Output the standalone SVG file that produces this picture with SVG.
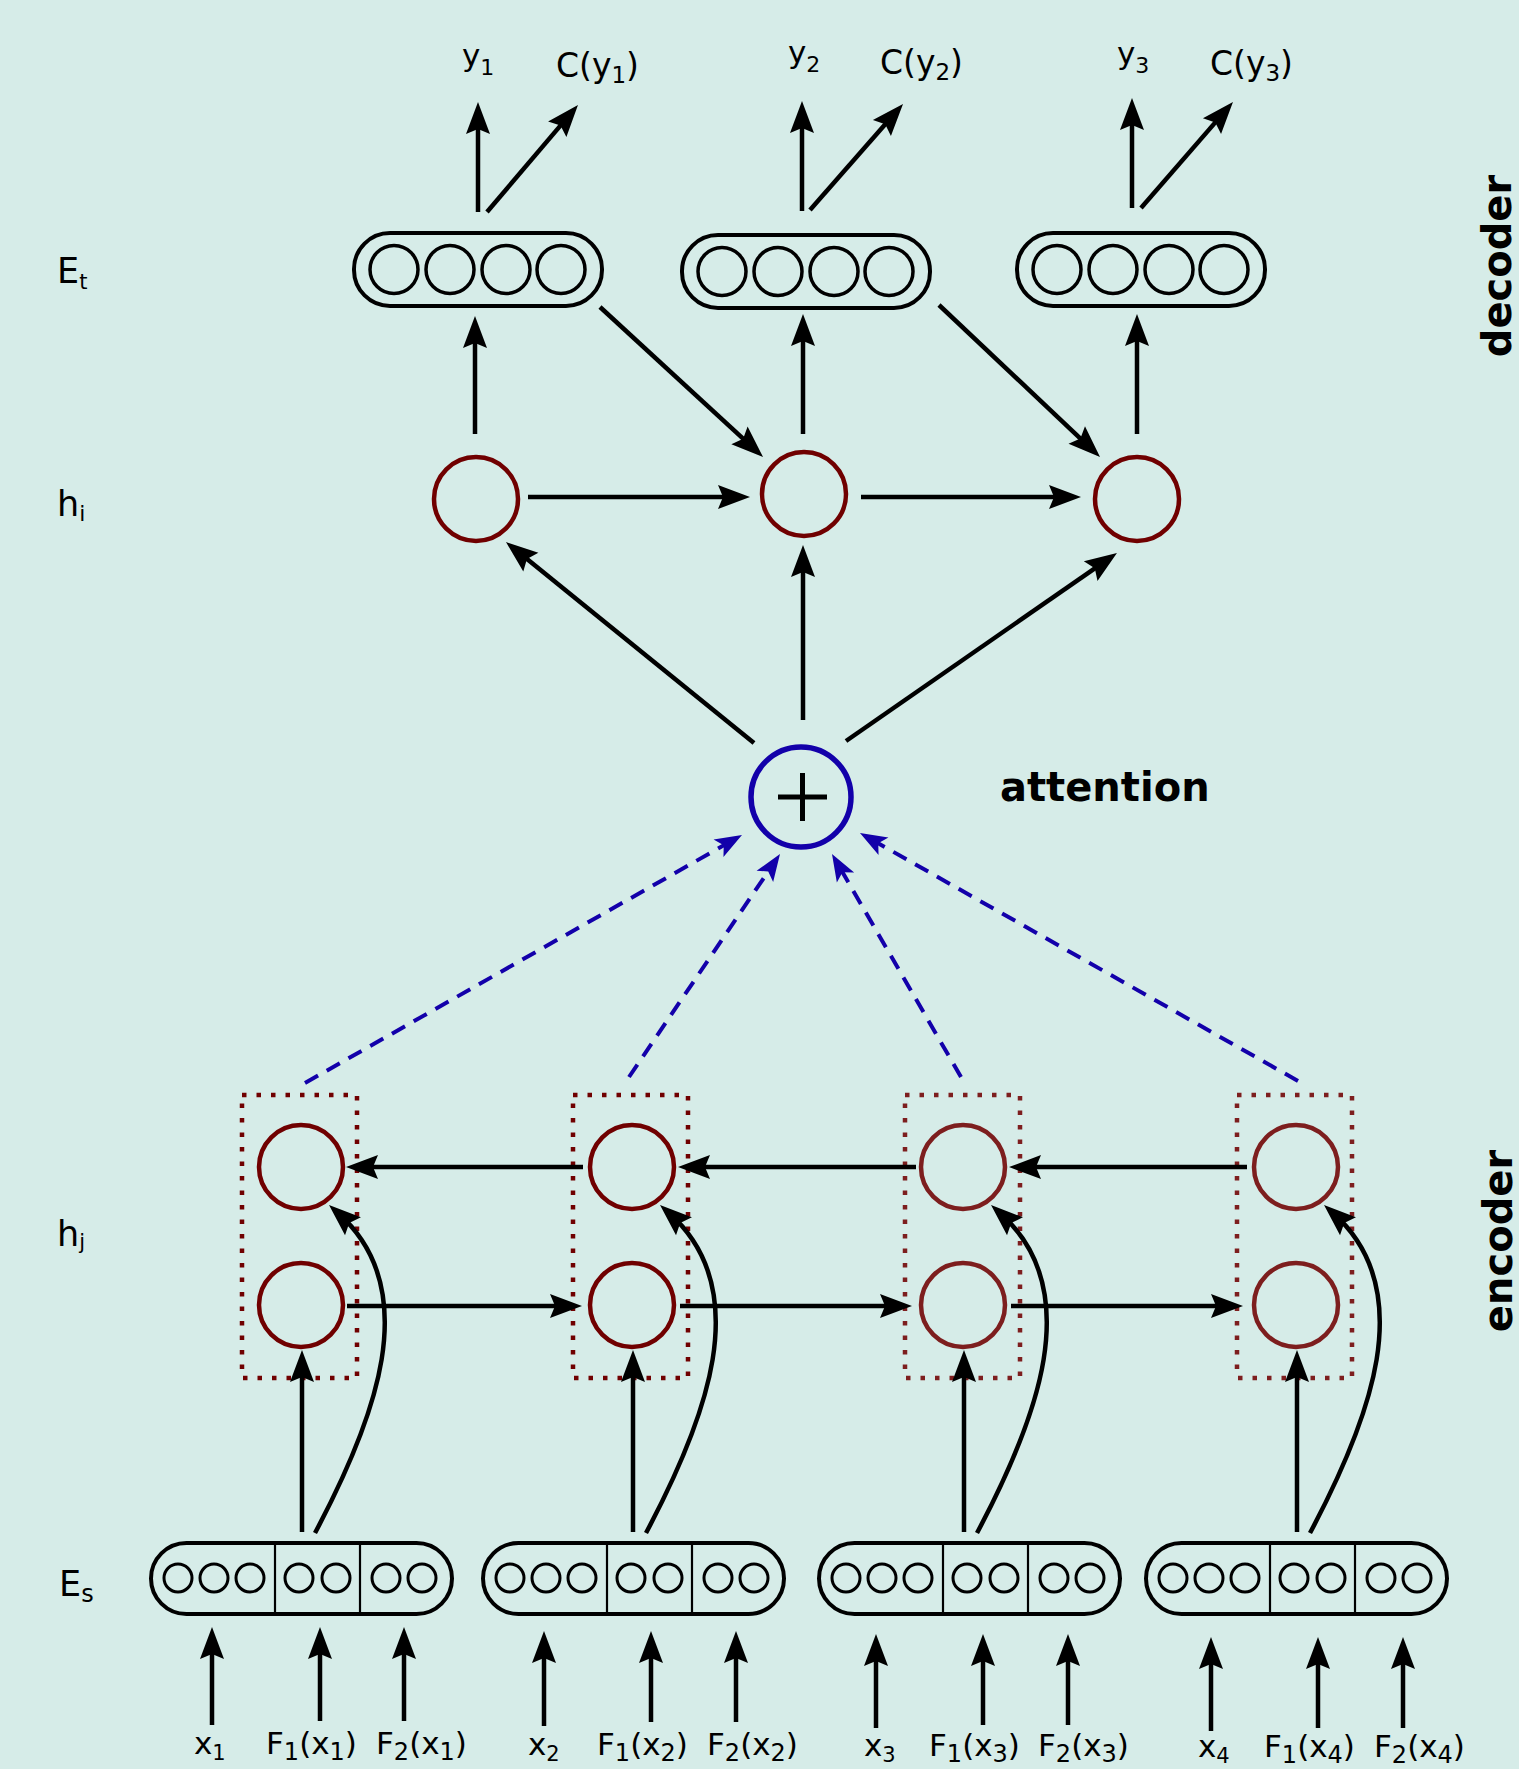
<svg xmlns="http://www.w3.org/2000/svg" width="1519" height="1769" viewBox="0 0 1519 1769">
<defs>
<style>
.lbl{font-family:"DejaVu Sans","Liberation Sans",sans-serif;font-size:33px;fill:#000}
.in{font-family:"DejaVu Sans","Liberation Sans",sans-serif;font-size:31px;fill:#000}
.side{font-family:"DejaVu Sans","Liberation Sans",sans-serif;font-weight:bold;font-size:40px;fill:#000}
.pill{fill:none;stroke:#000;stroke-width:4}
.cell{fill:none;stroke:#000;stroke-width:3.5}
.emb{fill:none;stroke:#000;stroke-width:3}
.div{stroke:#000;stroke-width:2.2}
.hd{fill:none;stroke:#700000;stroke-width:4.5}
.hd2{fill:none;stroke:#7d1e1e;stroke-width:4.5}
.grp{fill:none;stroke:#700000;stroke-width:4.5;stroke-dasharray:4.5 10}
.grp2{fill:none;stroke:#7d1e1e;stroke-width:4.5;stroke-dasharray:4.5 10}
.arr{fill:none;stroke:#000;stroke-width:4.5;marker-end:url(#ab)}
.att{fill:none;stroke:#1300aa;stroke-width:4;stroke-dasharray:15 10;marker-end:url(#abl)}
</style>
<marker id="ab" markerUnits="userSpaceOnUse" viewBox="-25 -25 50 50" markerWidth="50" markerHeight="50" refX="0" refY="0" orient="auto" overflow="visible">
<path d="M12,0 L-20,-12 L-15,0 L-20,12 Z" fill="#000"/>
</marker>
<marker id="abl" markerUnits="userSpaceOnUse" viewBox="-25 -25 50 50" markerWidth="50" markerHeight="50" refX="0" refY="0" orient="auto" overflow="visible">
<path d="M10,0 L-17,-10 L-11,0 L-17,10 Z" fill="#1300aa"/>
</marker>
</defs>

<rect x="0" y="0" width="1519" height="1769" fill="#d6ece8"/>

<!-- row labels -->
<g id="row-labels" class="lbl">
<text x="57" y="283" font-size="35">E<tspan font-size="21" dy="6">t</tspan></text>
<text x="57" y="516" font-size="35">h<tspan font-size="22" dy="5">i</tspan></text>
<text x="57" y="1246" font-size="35">h<tspan font-size="21" dy="3">j</tspan></text>
<text x="59" y="1596" font-size="35">E<tspan font-size="24" dy="6">s</tspan></text>
</g>

<g id="section-labels">
<text class="side" transform="translate(1511,266) rotate(-90)" text-anchor="middle">decoder</text>
<text class="side" transform="translate(1512,1241) rotate(-90)" text-anchor="middle">encoder</text>
<text class="side" x="1000" y="801">attention</text>
</g>

<!-- decoder outputs -->
<g id="outputs" class="lbl">
<text x="462" y="66" font-size="31">y<tspan font-size="22" dy="9">1</tspan></text>
<text x="556" y="77">C(y<tspan font-size="23" dy="6">1</tspan><tspan dy="-6">)</tspan></text>
<text x="788" y="63" font-size="31">y<tspan font-size="22" dy="9">2</tspan></text>
<text x="880" y="74">C(y<tspan font-size="23" dy="6">2</tspan><tspan dy="-6">)</tspan></text>
<text x="1117" y="64" font-size="31">y<tspan font-size="22" dy="9">3</tspan></text>
<text x="1210" y="75">C(y<tspan font-size="23" dy="6">3</tspan><tspan dy="-6">)</tspan></text>
</g>

<!-- decoder embeddings E_t -->
<g id="Et1" transform="translate(354,233)">
<rect class="pill" x="0" y="0" width="248" height="73" rx="36"/>
<circle class="cell" cx="40" cy="36.5" r="24"/><circle class="cell" cx="96" cy="36.5" r="24"/><circle class="cell" cx="152" cy="36.5" r="24"/><circle class="cell" cx="207" cy="36.5" r="24"/>
</g>
<g id="Et2" transform="translate(682,235)">
<rect class="pill" x="0" y="0" width="248" height="73" rx="36"/>
<circle class="cell" cx="40" cy="36.5" r="24"/><circle class="cell" cx="96" cy="36.5" r="24"/><circle class="cell" cx="152" cy="36.5" r="24"/><circle class="cell" cx="207" cy="36.5" r="24"/>
</g>
<g id="Et3" transform="translate(1017,233)">
<rect class="pill" x="0" y="0" width="248" height="73" rx="36"/>
<circle class="cell" cx="40" cy="36.5" r="24"/><circle class="cell" cx="96" cy="36.5" r="24"/><circle class="cell" cx="152" cy="36.5" r="24"/><circle class="cell" cx="207" cy="36.5" r="24"/>
</g>

<!-- decoder hidden states -->
<g id="hi1"><circle class="hd" cx="476" cy="499" r="42"/></g>
<g id="hi2"><circle class="hd" cx="804" cy="494" r="42"/></g>
<g id="hi3"><circle class="hd" cx="1137" cy="499" r="42"/></g>

<!-- attention sum -->
<g id="attn">
<circle cx="801" cy="797" r="50" fill="none" stroke="#1300aa" stroke-width="5.5"/>
<path d="M778,797 H827 M802.5,773 V821" stroke="#000" stroke-width="5" fill="none"/>
</g>

<!-- encoder hidden states -->
<g id="hj1">
<rect class="grp" x="242" y="1095" width="115" height="283"/>
<circle class="hd" cx="301" cy="1167" r="42"/><circle class="hd" cx="301" cy="1305" r="42"/>
</g>
<g id="hj2">
<rect class="grp" x="573" y="1095" width="115" height="283"/>
<circle class="hd" cx="632" cy="1167" r="42"/><circle class="hd" cx="632" cy="1305" r="42"/>
</g>
<g id="hj3">
<rect class="grp2" x="905" y="1095" width="115" height="283"/>
<circle class="hd2" cx="963" cy="1167" r="42"/><circle class="hd2" cx="963" cy="1305" r="42"/>
</g>
<g id="hj4">
<rect class="grp2" x="1237" y="1095" width="115" height="283"/>
<circle class="hd2" cx="1296" cy="1167" r="42"/><circle class="hd2" cx="1296" cy="1305" r="42"/>
</g>

<!-- encoder embeddings E_s -->
<g id="Es1" transform="translate(151,1543)">
<rect class="pill" x="0" y="0" width="301" height="71" rx="35.5"/>
<line class="div" x1="124" y1="0" x2="124" y2="71"/><line class="div" x1="209" y1="0" x2="209" y2="71"/>
<circle class="emb" cx="27" cy="35" r="14"/><circle class="emb" cx="63" cy="35" r="14"/><circle class="emb" cx="99" cy="35" r="14"/><circle class="emb" cx="148" cy="35" r="14"/><circle class="emb" cx="185" cy="35" r="14"/><circle class="emb" cx="235" cy="35" r="14"/><circle class="emb" cx="271" cy="35" r="14"/>
</g>
<g id="Es2" transform="translate(483,1543)">
<rect class="pill" x="0" y="0" width="301" height="71" rx="35.5"/>
<line class="div" x1="124" y1="0" x2="124" y2="71"/><line class="div" x1="209" y1="0" x2="209" y2="71"/>
<circle class="emb" cx="27" cy="35" r="14"/><circle class="emb" cx="63" cy="35" r="14"/><circle class="emb" cx="99" cy="35" r="14"/><circle class="emb" cx="148" cy="35" r="14"/><circle class="emb" cx="185" cy="35" r="14"/><circle class="emb" cx="235" cy="35" r="14"/><circle class="emb" cx="271" cy="35" r="14"/>
</g>
<g id="Es3" transform="translate(819,1543)">
<rect class="pill" x="0" y="0" width="301" height="71" rx="35.5"/>
<line class="div" x1="124" y1="0" x2="124" y2="71"/><line class="div" x1="209" y1="0" x2="209" y2="71"/>
<circle class="emb" cx="27" cy="35" r="14"/><circle class="emb" cx="63" cy="35" r="14"/><circle class="emb" cx="99" cy="35" r="14"/><circle class="emb" cx="148" cy="35" r="14"/><circle class="emb" cx="185" cy="35" r="14"/><circle class="emb" cx="235" cy="35" r="14"/><circle class="emb" cx="271" cy="35" r="14"/>
</g>
<g id="Es4" transform="translate(1146,1543)">
<rect class="pill" x="0" y="0" width="301" height="71" rx="35.5"/>
<line class="div" x1="124" y1="0" x2="124" y2="71"/><line class="div" x1="209" y1="0" x2="209" y2="71"/>
<circle class="emb" cx="27" cy="35" r="14"/><circle class="emb" cx="63" cy="35" r="14"/><circle class="emb" cx="99" cy="35" r="14"/><circle class="emb" cx="148" cy="35" r="14"/><circle class="emb" cx="185" cy="35" r="14"/><circle class="emb" cx="235" cy="35" r="14"/><circle class="emb" cx="271" cy="35" r="14"/>
</g>

<!-- input features -->
<g id="inputs" class="in">
<text x="194" y="1754">x<tspan font-size="21" dy="6">1</tspan></text>
<text x="266" y="1754">F<tspan font-size="24" dy="6">1</tspan><tspan dy="-6">(x</tspan><tspan font-size="24" dy="6">1</tspan><tspan dy="-6">)</tspan></text>
<text x="376" y="1754">F<tspan font-size="24" dy="6">2</tspan><tspan dy="-6">(x</tspan><tspan font-size="24" dy="6">1</tspan><tspan dy="-6">)</tspan></text>
<text x="528" y="1755">x<tspan font-size="21" dy="6">2</tspan></text>
<text x="597" y="1755">F<tspan font-size="24" dy="6">1</tspan><tspan dy="-6">(x</tspan><tspan font-size="24" dy="6">2</tspan><tspan dy="-6">)</tspan></text>
<text x="707" y="1755">F<tspan font-size="24" dy="6">2</tspan><tspan dy="-6">(x</tspan><tspan font-size="24" dy="6">2</tspan><tspan dy="-6">)</tspan></text>
<text x="864" y="1756">x<tspan font-size="21" dy="6">3</tspan></text>
<text x="929" y="1756">F<tspan font-size="24" dy="6">1</tspan><tspan dy="-6">(x</tspan><tspan font-size="24" dy="6">3</tspan><tspan dy="-6">)</tspan></text>
<text x="1038" y="1756">F<tspan font-size="24" dy="6">2</tspan><tspan dy="-6">(x</tspan><tspan font-size="24" dy="6">3</tspan><tspan dy="-6">)</tspan></text>
<text x="1198" y="1757">x<tspan font-size="21" dy="6">4</tspan></text>
<text x="1264" y="1757">F<tspan font-size="24" dy="6">1</tspan><tspan dy="-6">(x</tspan><tspan font-size="24" dy="6">4</tspan><tspan dy="-6">)</tspan></text>
<text x="1374" y="1757">F<tspan font-size="24" dy="6">2</tspan><tspan dy="-6">(x</tspan><tspan font-size="24" dy="6">4</tspan><tspan dy="-6">)</tspan></text>
</g>

<!-- connectors -->
<g id="connectors">
<!-- E_t to outputs -->
<path class="arr" d="M478,212 L478,114"/>
<path class="arr" d="M487,212 L570.2,114.1"/>
<path class="arr" d="M802,211 L802,113"/>
<path class="arr" d="M810,210 L895.1,113"/>
<path class="arr" d="M1132,208 L1132,110"/>
<path class="arr" d="M1141,208 L1225.1,111.1"/>
<!-- h_i to E_t -->
<path class="arr" d="M475,434 L475,328"/>
<path class="arr" d="M803,434 L803,326"/>
<path class="arr" d="M1137,434 L1137,326"/>
<!-- E_t to next h_i -->
<path class="arr" d="M600,307 L754.2,448.9"/>
<path class="arr" d="M939,305 L1091.3,448.8"/>
<!-- decoder recurrence -->
<path class="arr" d="M528,497 L738,497"/>
<path class="arr" d="M861,497 L1069,497"/>
<!-- context to decoder states -->
<path class="arr" d="M754,743 L515.3,549.6"/>
<path class="arr" d="M803,720 L803,557"/>
<path class="arr" d="M846,741 L1107.1,559.8"/>
<!-- attention weights -->
<path class="att" d="M305,1083 L733.3,839.9"/>
<path class="att" d="M629,1077 L774.4,862.3"/>
<path class="att" d="M961,1077 L837,862.7"/>
<path class="att" d="M1298,1081 L868.7,837.9"/>
<!-- backward encoder -->
<path class="arr" d="M583,1167 L358,1167"/>
<path class="arr" d="M916,1167 L690,1167"/>
<path class="arr" d="M1247,1167 L1021,1167"/>
<!-- forward encoder -->
<path class="arr" d="M347,1306 L570,1306"/>
<path class="arr" d="M680,1306 L900,1306"/>
<path class="arr" d="M1011,1306 L1231,1306"/>
<!-- E_s to forward states -->
<path class="arr" d="M302,1532 L302,1362"/>
<path class="arr" d="M633,1532 L633,1362"/>
<path class="arr" d="M964,1532 L964,1362"/>
<path class="arr" d="M1297,1532 L1297,1362"/>
<!-- E_s to backward states -->
<path class="arr" d="M315,1533 C375,1420 425,1290 338,1213"/>
<path class="arr" d="M646,1533 C706,1420 756,1290 669,1213"/>
<path class="arr" d="M977,1533 C1037,1420 1087,1290 1000,1213"/>
<path class="arr" d="M1310,1533 C1370,1420 1420,1290 1333,1213"/>
<!-- inputs to E_s -->
<path class="arr" d="M212,1725 L212,1639"/>
<path class="arr" d="M320,1721 L320,1639"/>
<path class="arr" d="M404,1721 L404,1639"/>
<path class="arr" d="M544,1726 L544,1643"/>
<path class="arr" d="M651,1722 L651,1643"/>
<path class="arr" d="M736,1722 L736,1643"/>
<path class="arr" d="M876,1728 L876,1646"/>
<path class="arr" d="M983,1725 L983,1646"/>
<path class="arr" d="M1068,1725 L1068,1646"/>
<path class="arr" d="M1211,1731 L1211,1649"/>
<path class="arr" d="M1318,1728 L1318,1649"/>
<path class="arr" d="M1403,1728 L1403,1649"/>
</g>
</svg>
